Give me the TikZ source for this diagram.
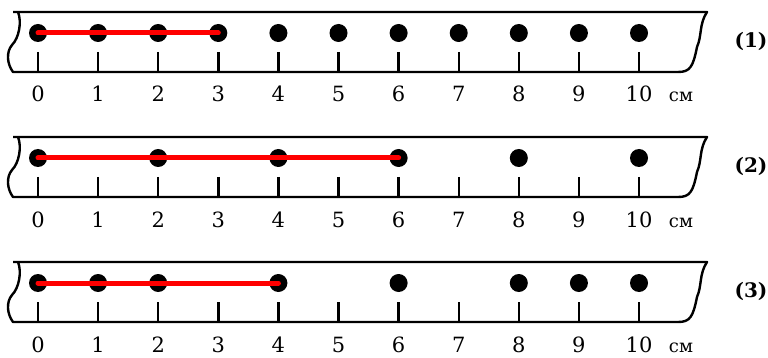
\documentclass[tikz,border=0pt]{standalone}
\usepackage{fontspec}
\setmainfont{DejaVu Serif}

\begin{document}
\begin{tikzpicture}[x=1pt,y=-1pt,
  font=\fontsize{21}{26}\selectfont,
  dot/.style={circle,fill=black,inner sep=0pt,minimum size=18pt},
  rulerline/.style={line width=2.4pt,line join=round},
  ticknum/.style={anchor=base},
  redline/.style={red,line width=5pt,line cap=round}]
  \useasboundingbox (0,0) rectangle (768,358);

  \foreach \r/\t/\pts in {1/12/{0,1,2,3,4,5,6,7,8,9,10},
                          2/137/{0,2,4,6,8,10},
                          3/262/{0,1,2,4,6,8,9,10}} {
    % ruler body with torn ends
    \draw[rulerline] (13,\t) -- (707,\t)
      .. controls (699,\t+12) and (702,\t+24) .. (697,\t+35)
      .. controls (693,\t+55) and (690,\t+60) .. (678,\t+60) -- (13,\t+60)
      .. controls (7,\t+52) and (6,\t+40) .. (12,\t+33)
      .. controls (19,\t+26) and (22,\t+10) .. (18,\t);
    \foreach \k in {0,...,10} {
      \draw[rulerline] (38+60.1*\k,\t+40) -- (38+60.1*\k,\t+60);
      \node[ticknum] (n\r-\k) at (38+60.1*\k,\t+90) {\k};
    }
    \node[ticknum] (cm\r) at (681,\t+90) {\fontsize{18}{21}\selectfont см};
    \node[font=\fontsize{20}{24}\selectfont\bfseries] (lab\r) at (751,\t+29) {(\r)};
    \foreach \k in \pts
      \node[dot] (d\r-\k) at (38+60.1*\k,\t+21) {};
  }

  \draw[redline] (d1-0.center) -- (d1-1.center) -- (d1-2.center) -- (d1-3.center);
  \draw[redline] (d2-0.center) -- (d2-2.center) -- (d2-4.center) -- (d2-6.center);
  \draw[redline] (d3-0.center) -- (d3-1.center) -- (d3-2.center) -- (d3-4.center);
\end{tikzpicture}
\end{document}
